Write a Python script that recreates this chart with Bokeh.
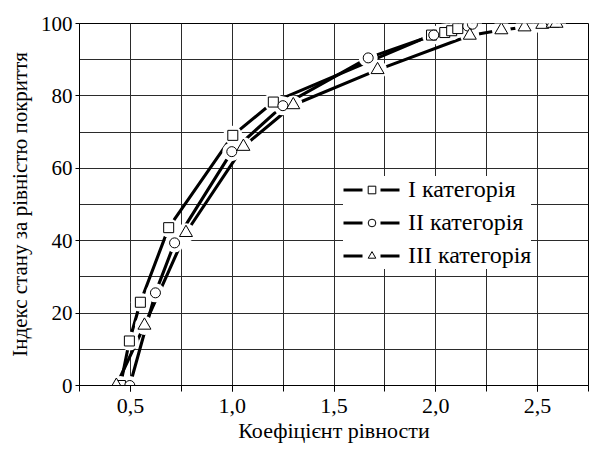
from bokeh.plotting import figure
from bokeh.models import FixedTicker, Legend, LegendItem, Range1d, CustomJSTickFormatter
from bokeh.embed import file_html
from bokeh.resources import INLINE

# ---- data ----
x_cat1 = [0.451, 0.495, 0.549, 0.688, 1.003, 1.202, 1.979, 2.044, 2.078, 2.108]
y_cat1 = [0.0, 12.3, 23.0, 43.6, 69.1, 78.3, 96.8, 97.5, 98.0, 98.6]

x_cat2 = [0.497, 0.623, 0.717, 0.998, 1.249, 1.668, 1.990, 2.157, 2.180]
y_cat2 = [0.0, 25.6, 39.4, 64.6, 77.3, 90.5, 96.8, 99.3, 99.8]

x_cat3 = [0.431, 0.569, 0.773, 1.055, 1.300, 1.714, 2.167, 2.322, 2.436, 2.523, 2.574, 2.593]
y_cat3 = [0.0, 16.6, 42.2, 66.0, 77.5, 87.2, 96.7, 98.2, 99.0, 99.7, 100.0, 100.0]

labels = ["I категорія", "II категорія", "III категорія"]
markers = ["square", "circle", "triangle"]

x_major = [0.5, 1.0, 1.5, 2.0, 2.5]
x_minor = [0.25, 0.5, 0.75, 1.0, 1.25, 1.5, 1.75, 2.0, 2.25, 2.5, 2.75]
y_major = [0, 20, 40, 60, 80, 100]
y_minor = [0, 10, 20, 30, 40, 50, 60, 70, 80, 90, 100]

x_title = "Коефіцієнт рівности"
y_title = "Індекс стану за рівністю покриття"

FONT = "Liberation Serif"

p = figure(width=589, height=453, output_backend="svg", toolbar_location=None,
           x_range=Range1d(0.25, 2.75), y_range=Range1d(0, 100),
           min_border_left=79, min_border_top=23, min_border_right=1, min_border_bottom=68)

p.outline_line_color = "black"
p.outline_line_width = 1
p.background_fill_color = "white"
p.border_fill_color = "white"

# axes
p.xaxis.ticker = FixedTicker(ticks=x_major, minor_ticks=x_minor)
p.yaxis.ticker = FixedTicker(ticks=y_major, minor_ticks=y_minor)
p.xaxis.formatter = CustomJSTickFormatter(code="return tick.toFixed(1).replace('.', ',');")
for ax in (p.xaxis[0], p.yaxis[0]):
    ax.axis_line_color = "black"
    ax.axis_line_width = 1
    ax.major_tick_line_color = "black"
    ax.minor_tick_line_color = "black"
    ax.major_label_text_font = FONT
    ax.major_label_text_color = "black"
    ax.axis_label_text_font = FONT
    ax.axis_label_text_font_style = "normal"
    ax.axis_label_text_color = "black"

p.xaxis.axis_label_text_font_size = "22px"
p.yaxis.axis_label_text_font_size = "21px"
p.xaxis.major_label_text_font_size = "22px"
p.yaxis.major_label_text_font_size = "21px"

p.xaxis.major_tick_in = 0
p.xaxis.major_tick_out = 6
p.xaxis.minor_tick_in = 0
p.xaxis.minor_tick_out = 6
p.xaxis.major_label_standoff = 7
p.xaxis.axis_label_standoff = 2
p.yaxis.major_tick_in = 0
p.yaxis.major_tick_out = 4
p.yaxis.minor_tick_in = 0
p.yaxis.minor_tick_out = 0
p.yaxis.major_label_standoff = 3
p.yaxis.axis_label_standoff = 6

p.xaxis.axis_label = x_title
p.yaxis.axis_label = y_title

# grid
for g in (p.xgrid[0], p.ygrid[0]):
    g.grid_line_color = "#2b2b2b"
    g.grid_line_width = 1
    g.minor_grid_line_color = "#2b2b2b"
    g.minor_grid_line_width = 1

series = [(x_cat1, y_cat1), (x_cat2, y_cat2), (x_cat3, y_cat3)]

for xs, ys in series:
    p.line(xs, ys, line_color="black", line_width=3.1)

# white halos open gaps in the lines around markers
for xs, ys in series:
    p.scatter(xs, ys, marker="circle", size=19, fill_color="white", line_color=None)

marker_renderers = []
for (xs, ys), m in zip(series, markers):
    sz = 13 if m == "triangle" else 10
    r = p.scatter(xs, ys, marker=m, size=sz, fill_color="white", line_color="black", line_width=1)
    marker_renderers.append(r)

# hidden dashed copies of the lines, used only for the legend swatch (gap for marker)
legend_lines = []
for xs, ys in series:
    r = p.line(xs, ys, line_color="black", line_width=3.1, line_dash="19 18", visible=False)
    legend_lines.append(r)

items = [LegendItem(label=lab, renderers=[ll, mr])
         for lab, ll, mr in zip(labels, legend_lines, marker_renderers)]
legend = Legend(items=items, location=(264, 116))
legend.label_text_font = FONT
legend.label_text_font_size = "24px"
legend.label_text_color = "black"
legend.background_fill_color = "white"
legend.background_fill_alpha = 1.0
legend.border_line_color = None
legend.glyph_width = 57
legend.glyph_height = 19
legend.label_height = 19
legend.spacing = 6
legend.padding = 10
legend.margin = 0
legend.label_standoff = 8
p.add_layout(legend, "center")

open("out.html", "w").write(file_html(p, INLINE))
